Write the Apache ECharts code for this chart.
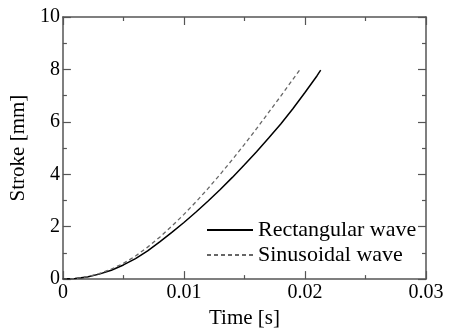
<!DOCTYPE html>
<html>
<head>
<meta charset="utf-8">
<script src="https://cdn.jsdelivr.net/npm/echarts@6/dist/echarts.min.js"></script>
<style>html,body{margin:0;padding:0;background:#fff}#c{width:449px;height:334px}</style>
</head>
<body>
<div id="c"></div>
<script>
const timeRect = [0,0.001,0.002,0.003,0.004,0.005,0.006,0.007,0.008,0.009,0.010,0.011,0.012,0.013,0.014,0.015,0.016,0.017,0.018,0.019,0.020,0.021,0.0213];
const strokeRect = [0,0.02,0.08,0.19,0.34,0.54,0.78,1.08,1.42,1.78,2.16,2.56,2.98,3.42,3.88,4.36,4.86,5.38,5.92,6.5,7.12,7.76,7.97];
const timeSin = [0,0.001,0.002,0.003,0.004,0.005,0.006,0.007,0.008,0.009,0.010,0.011,0.012,0.013,0.014,0.015,0.016,0.017,0.018,0.019,0.0196];
const strokeSin = [0,0.02,0.09,0.21,0.38,0.6,0.88,1.22,1.6,2.02,2.47,2.95,3.46,4.0,4.56,5.14,5.74,6.36,6.98,7.62,8.0];
const xTicks = ['0','0.01','0.02','0.03'];
const seriesNames = ['Rectangular wave','Sinusoidal wave'];

const FONT = "'Liberation Serif', 'Times New Roman', serif";
const axisColor = '#555';
const chart = echarts.init(document.getElementById('c'));
const pairs = (xs, ys) => xs.map((x,i)=>[x, ys[i]]);
const tickStyle = {color:axisColor, width:1.2};
const baseX = {
  type:'value', min:0, max:0.03, interval:0.01,
  axisLine:{show:true, onZero:false, lineStyle:{color:axisColor, width:1.5}},
  axisTick:{show:true, inside:true, length:8, lineStyle:tickStyle},
  minorTick:{show:true, splitNumber:2, length:4, lineStyle:tickStyle},
  splitLine:{show:false}, minorSplitLine:{show:false}
};
const baseY = {
  type:'value', min:0, max:10, interval:2,
  axisLine:{show:true, onZero:false, lineStyle:{color:axisColor, width:1.5}},
  axisTick:{show:true, inside:true, length:8, lineStyle:tickStyle},
  minorTick:{show:true, splitNumber:2, length:4, lineStyle:tickStyle},
  splitLine:{show:false}, minorSplitLine:{show:false}
};
chart.setOption({
  animation:false,
  textStyle:{fontFamily:FONT},
  grid:{left:62, right:23, top:17, bottom:52},
  legend:{
    orient:'vertical', left:201, top:214, itemWidth:46, itemHeight:12, itemGap:3,
    itemStyle:{opacity:0},
    textStyle:{fontFamily:FONT, fontSize:22, color:'#000'},
    data:seriesNames
  },
  xAxis:[
    Object.assign({}, baseX, {
      position:'bottom', name:'Time [s]', nameLocation:'middle', nameGap:21,
      nameTextStyle:{fontFamily:FONT, fontSize:21, color:'#000', verticalAlign:'top'},
      axisLabel:{show:true, margin:4, fontFamily:FONT, fontSize:20, color:'#000',
        formatter:(v)=>xTicks[Math.round(v/0.01)]}
    }),
    Object.assign({}, baseX, {position:'top', axisLabel:{show:false}})
  ],
  yAxis:[
    Object.assign({}, baseY, {
      position:'left', name:'Stroke [mm]', nameLocation:'middle', nameGap:29,
      nameTextStyle:{fontFamily:FONT, fontSize:21, color:'#000'},
      axisLabel:{show:true, margin:3, fontFamily:FONT, fontSize:20, color:'#000'}
    }),
    Object.assign({}, baseY, {position:'right', axisLabel:{show:false}})
  ],
  series:[
    {name:seriesNames[0], type:'line', data:pairs(timeRect, strokeRect), showSymbol:false, symbol:'none',
     lineStyle:{color:'#000', width:1.5, type:'solid'}, itemStyle:{color:'#000'}},
    {name:seriesNames[1], type:'line', data:pairs(timeSin, strokeSin), showSymbol:false, symbol:'none',
     lineStyle:{color:'#666', width:1.3, type:[4,3]}, itemStyle:{color:'#666'}}
  ]
});
</script>
</body>
</html>
